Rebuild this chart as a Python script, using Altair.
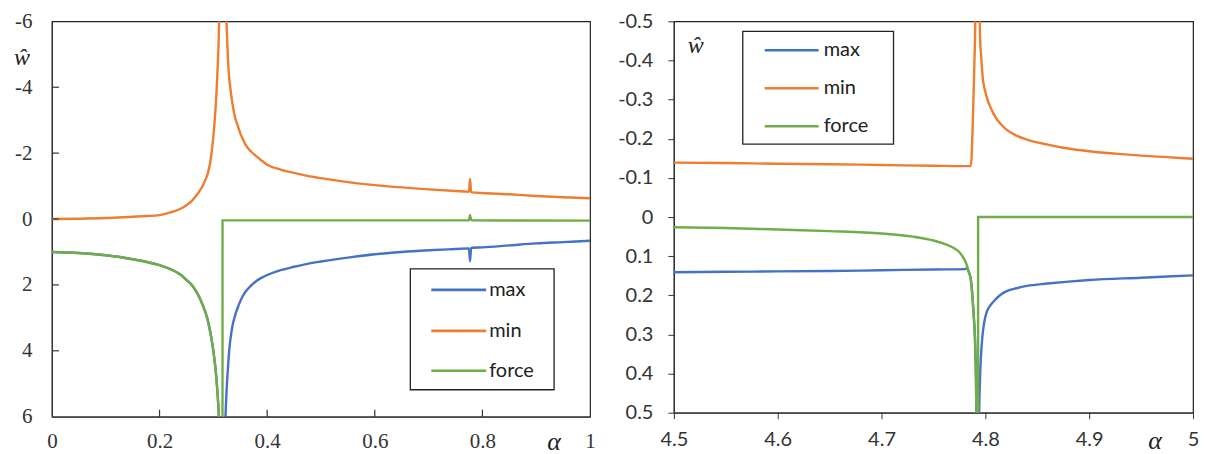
import altair as alt
import pandas as pd

SERIES = ["max", "min", "force"]
COLORS = ["#4472C4", "#ED7D31", "#70AD47"]

# ---------------- left panel data (alpha in [0, 1]) ----------------
L_MAX_A = [0, 0.05, 0.1, 0.15, 0.2, 0.22, 0.24, 0.25, 0.26, 0.27, 0.28, 0.285, 0.29, 0.295, 0.3,
           0.303, 0.306, 0.308, 0.31, 0.311, 0.316, 0.322, 0.324, 0.326, 0.328, 0.33, 0.333, 0.336,
           0.34, 0.345, 0.35, 0.355, 0.36, 0.37, 0.38, 0.39, 0.4, 0.425, 0.45, 0.475, 0.5, 0.55, 0.6,
           0.65, 0.7, 0.75, 0.775, 0.777, 0.779, 0.781, 0.8, 0.85, 0.9, 0.95, 1.0]
L_MAX_W = [1.0, 1.03, 1.1, 1.22, 1.4, 1.52, 1.7, 1.85, 2.0, 2.25, 2.6, 2.82, 3.1, 3.5, 4.0,
           4.4, 4.9, 5.35, 5.9, 6.3, 12, 6.3, 5.4, 4.8, 4.3, 3.9, 3.5, 3.2,
           2.95, 2.7, 2.5, 2.33, 2.2, 2.02, 1.88, 1.78, 1.7, 1.55, 1.45, 1.36, 1.29, 1.17, 1.07,
           1.0, 0.95, 0.91, 0.89, 1.28, 0.88, 0.87, 0.86, 0.8, 0.74, 0.7, 0.66]

L_MIN_A = [0, 0.05, 0.1, 0.15, 0.175, 0.2, 0.22, 0.24, 0.25, 0.26, 0.27, 0.28, 0.285, 0.29, 0.295,
           0.3, 0.303, 0.306, 0.308, 0.31, 0.311, 0.317, 0.324, 0.326, 0.328, 0.33, 0.333, 0.336,
           0.34, 0.345, 0.35, 0.355, 0.36, 0.37, 0.38, 0.39, 0.4, 0.425, 0.45, 0.475, 0.5, 0.55, 0.6,
           0.65, 0.7, 0.75, 0.775, 0.777, 0.779, 0.781, 0.8, 0.85, 0.9, 0.95, 1.0]
L_MIN_W = [0, -0.01, -0.03, -0.07, -0.09, -0.12, -0.2, -0.32, -0.42, -0.55, -0.75, -1.0, -1.18, -1.4, -1.8,
           -2.5, -3.1, -3.9, -4.6, -5.5, -6.2, -12, -6.2, -5.3, -4.6, -4.2, -3.8, -3.45,
           -3.1, -2.85, -2.6, -2.42, -2.25, -2.05, -1.9, -1.77, -1.65, -1.5, -1.4, -1.31, -1.24, -1.12, -1.03,
           -0.96, -0.9, -0.85, -0.83, -1.22, -0.82, -0.81, -0.79, -0.75, -0.7, -0.66, -0.63]

L_FORCE_A = [0, 0.05, 0.1, 0.15, 0.2, 0.22, 0.24, 0.25, 0.26, 0.27, 0.28, 0.285, 0.29, 0.295, 0.3,
             0.303, 0.306, 0.308, 0.31, 0.311, 0.314, 0.317, 0.317, 0.5, 0.775, 0.777, 0.779, 0.781, 1.0]
L_FORCE_W = [1.0, 1.03, 1.1, 1.22, 1.4, 1.52, 1.7, 1.85, 2.0, 2.25, 2.6, 2.82, 3.1, 3.5, 4.0,
             4.4, 4.9, 5.35, 5.9, 6.3, 12, 12, 0.04, 0.04, 0.04, -0.12, 0.02, 0.04, 0.05]

L_XTICKS = [0, 0.2, 0.4, 0.6, 0.8, 1]
L_YTICKS = [-6, -4, -2, 0, 2, 4, 6]

# ---------------- right panel data (alpha in [4.5, 5]) ----------------
R_MAX_A = [4.5, 4.55, 4.6, 4.65, 4.7, 4.75, 4.78, 4.782, 4.784, 4.786, 4.787, 4.788, 4.789, 4.79,
           4.7905, 4.791, 4.792, 4.793, 4.794, 4.795, 4.796, 4.797, 4.798, 4.8, 4.802, 4.805, 4.81,
           4.815, 4.82, 4.83, 4.84, 4.86, 4.88, 4.9, 4.95, 5.0]
R_MAX_W = [0.141, 0.14, 0.139, 0.138, 0.136, 0.134, 0.133, 0.131, 0.14, 0.16, 0.185, 0.22, 0.26, 0.31,
           0.36, 0.42, 0.7, 0.7, 0.5, 0.4, 0.345, 0.31, 0.285, 0.255, 0.238, 0.225, 0.21,
           0.198, 0.19, 0.182, 0.176, 0.17, 0.165, 0.161, 0.155, 0.149]

R_MIN_A = [4.5, 4.55, 4.6, 4.65, 4.7, 4.75, 4.78, 4.786, 4.788, 4.79, 4.791, 4.792, 4.794, 4.795,
           4.796, 4.797, 4.798, 4.8, 4.802, 4.805, 4.81, 4.815, 4.82, 4.83, 4.84, 4.86, 4.875, 4.9,
           4.925, 4.95, 4.975, 5.0]
R_MIN_W = [-0.139, -0.138, -0.136, -0.135, -0.133, -0.131, -0.13, -0.13, -0.25, -0.45, -0.6, -0.7, -0.55, -0.45,
           -0.41, -0.37, -0.345, -0.32, -0.3, -0.28, -0.254, -0.237, -0.224, -0.208, -0.198, -0.185, -0.177, -0.168,
           -0.162, -0.157, -0.153, -0.149]

R_FORCE_A = [4.5, 4.55, 4.6, 4.65, 4.7, 4.73, 4.75, 4.76, 4.77, 4.775, 4.78, 4.782, 4.784, 4.786,
             4.787, 4.788, 4.789, 4.79, 4.7905, 4.791, 4.792, 4.793, 4.793, 5.0]
R_FORCE_W = [0.026, 0.028, 0.032, 0.036, 0.042, 0.05, 0.06, 0.068, 0.08, 0.09, 0.11, 0.122, 0.14, 0.16,
             0.185, 0.22, 0.26, 0.31, 0.36, 0.42, 0.7, 0.7, 0.0, 0.0]

R_XTICKS = [4.5, 4.6, 4.7, 4.8, 4.9, 5]
R_YTICKS = [-0.5, -0.4, -0.3, -0.2, -0.1, 0, 0.1, 0.2, 0.3, 0.4, 0.5]

SERIF = "Liberation Serif, DejaVu Serif, serif"
SANS = "Lato"


def frame(a, w, name):
    return pd.DataFrame({"alpha": a, "w": w, "series": name, "order": list(range(len(a)))})


def panel(data, xdom, ydom, xticks, yticks, W, H, left_style, legend_box, legend_sym, legend_rows,
          what_pos, alpha_pos):
    font = SERIF if left_style else SANS
    fsize = 21 if left_style else 20
    common = dict(grid=False, domainColor="#333", domainWidth=1.2, labelFont=font,
                  labelFontSize=fsize, labelColor="#333", labelExpr="'' + datum.value",
                  labelFlush=False, labelOverlap=False, title=None)
    if left_style:
        xaxis = alt.Axis(values=xticks, ticks=False, tickSize=0, labelPadding=14, **common)
        yaxis = alt.Axis(values=yticks, ticks=False, tickSize=0, labelPadding=20, **common)
    else:
        xaxis = alt.Axis(values=xticks, ticks=True, tickSize=6, tickColor="#333", labelPadding=11, **common)
        yaxis = alt.Axis(values=yticks, ticks=True, tickSize=6, tickColor="#333", labelPadding=15, **common)
    xs = alt.Scale(domain=xdom, nice=False, zero=False)
    ys = alt.Scale(domain=ydom, reverse=True, nice=False, zero=False)

    layers = []
    for (a, w), name, col in zip(data, SERIES, COLORS):
        layers.append(
            alt.Chart(frame(a, w, name)).mark_line(
                color=col, strokeWidth=2.4, clip=True, interpolate="monotone").encode(
                x=alt.X("alpha:Q", scale=xs, axis=xaxis),
                y=alt.Y("w:Q", scale=ys, axis=yaxis),
                order=alt.Order("order:Q"),
            )
        )

    if left_style:
        inner_x = [t for t in xticks if xdom[0] < t < xdom[1]]
        inner_y = [t for t in yticks if ydom[0] < t < ydom[1]]
        layers.append(
            alt.Chart(pd.DataFrame({"t": inner_x})).mark_rule(color="#333", strokeWidth=1.2).encode(
                x=alt.X("t:Q", scale=xs, axis=xaxis), y=alt.value(H), y2=alt.value(H - 7))
        )
        layers.append(
            alt.Chart(pd.DataFrame({"t": inner_y})).mark_rule(color="#333", strokeWidth=1.2).encode(
                y=alt.Y("t:Q", scale=ys, axis=yaxis), x=alt.value(0), x2=alt.value(7))
        )

    one = pd.DataFrame({"k": [0]})
    bx0, bx1, by0, by1 = legend_box
    layers.append(
        alt.Chart(one).mark_rect(fill="white", stroke="#222", strokeWidth=1.3).encode(
            x=alt.value(bx0), x2=alt.value(bx1), y=alt.value(by0), y2=alt.value(by1))
    )
    sx0, sx1, tx = legend_sym
    for name, col, ry in zip(SERIES, COLORS, legend_rows):
        layers.append(
            alt.Chart(one).mark_rule(color=col, strokeWidth=2.6).encode(
                x=alt.value(sx0), x2=alt.value(sx1), y=alt.value(ry))
        )
        layers.append(
            alt.Chart(pd.DataFrame({"name": [name]})).mark_text(
                align="left", baseline="middle", font=SANS, fontSize=20, color="#222").encode(
                x=alt.value(tx), y=alt.value(ry), text="name:N")
        )

    layers.append(
        alt.Chart(one).mark_text(font=SERIF, fontStyle="italic", fontSize=24, color="#222",
                                 align="center", baseline="alphabetic").encode(
            x=alt.value(what_pos[0]), y=alt.value(what_pos[1]), text=alt.value("ŵ"))
    )
    layers.append(
        alt.Chart(one).mark_text(font=SERIF, fontStyle="italic", fontSize=26, color="#222",
                                 align="center", baseline="middle").encode(
            x=alt.value(alpha_pos[0]), y=alt.value(alpha_pos[1]), text=alt.value("α"))
    )
    return alt.layer(*layers).properties(width=W, height=H)


left = panel(
    [(L_MAX_A, L_MAX_W), (L_MIN_A, L_MIN_W), (L_FORCE_A, L_FORCE_W)],
    [0, 1], [-6, 6], L_XTICKS, L_YTICKS, 539, 396, True,
    (359, 503, 248, 369), (380, 435, 438), (269, 310, 350),
    (-30, 44), (503, 421),
)
right = panel(
    [(R_MAX_A, R_MAX_W), (R_MIN_A, R_MIN_W), (R_FORCE_A, R_FORCE_W)],
    [4.5, 5], [-0.5, 0.5], R_XTICKS, R_YTICKS, 520, 392, False,
    (69, 220, 10, 123), (91, 145, 150), (29, 67, 105),
    (22, 32), (482, 420),
)

chart = alt.hconcat(left, right, spacing=21).properties(
    padding={"left": 5, "top": 1, "right": 0, "bottom": 0}
).configure_view(stroke="#222", strokeWidth=1.2)

chart.save("out.html", embed_options={"renderer": "svg", "actions": False})
